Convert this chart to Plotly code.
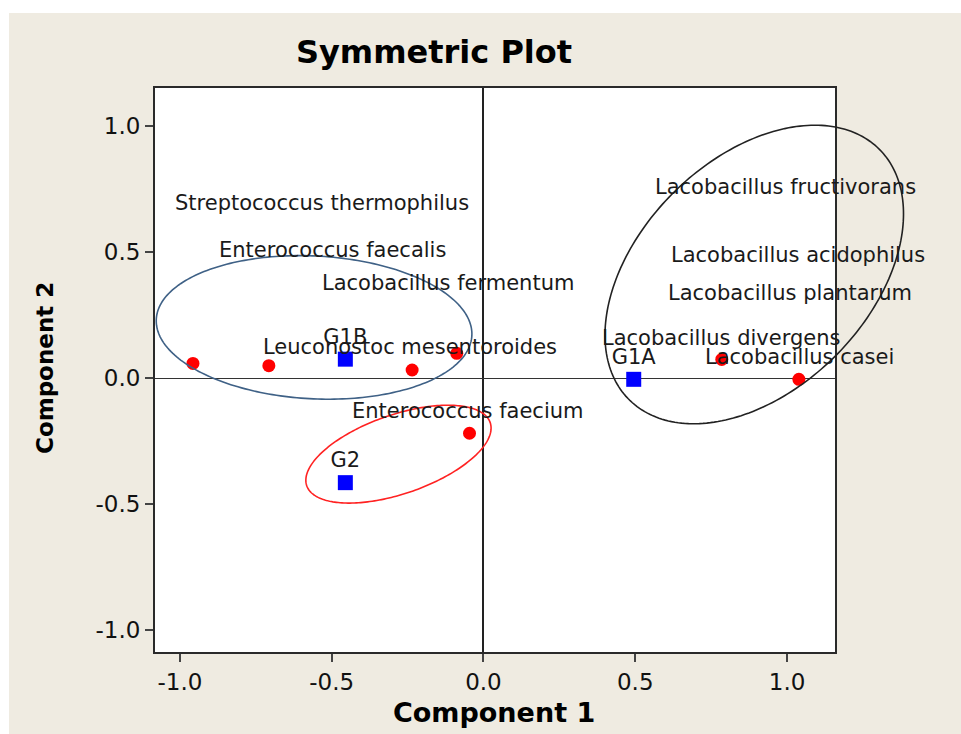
import numpy as np
import plotly.graph_objects as go

# ---- data ----
point_x = [-0.957, -0.707, -0.235, -0.088, -0.046, 0.785, 1.039]
point_y = [0.058, 0.049, 0.032, 0.098, -0.219, 0.074, -0.005]

group_names = ["G1B", "G1A", "G2"]
group_x = [-0.455, 0.495, -0.455]
group_y = [0.075, -0.005, -0.415]

species_names = [
    "Streptococcus thermophilus",
    "Enterococcus faecalis",
    "Lacobacillus fermentum",
    "Leuconostoc mesentoroides",
    "Enterococcus faecium",
    "Lacobacillus fructivorans",
    "Lacobacillus acidophilus",
    "Lacobacillus plantarum",
    "Lacobacillus divergens",
    "Lacobacillus casei",
]
species_x = [-1.018, -0.873, -0.534, -0.728, -0.435, 0.563, 0.613, 0.604, 0.388, 0.728]
species_y = [0.694, 0.508, 0.377, 0.123, -0.131, 0.759, 0.488, 0.338, 0.158, 0.082]

tick_vals = [-1.0, -0.5, 0.0, 0.5, 1.0]
tick_text = ["-1.0", "-0.5", "0.0", "0.5", "1.0"]

# ellipse groups: center (data), semi-axes (screen px), rotation (deg, ccw on screen)
ell_cx = [-0.558, -0.280, 0.892]
ell_cy = [0.201, -0.302, 0.411]
ell_a = [158, 97, 177]
ell_b = [71.4, 39.5, 115]
ell_rot = [-3, 19, 45]
ell_colors = ["#3F6186", "#FF2222", "#222222"]

# ---- layout geometry ----
W, H = 961, 734
ML, MR, MT, MB = 155, 126, 88, 82
xr = [-1.082, 1.158]
yr = [-1.087, 1.151]
pw = W - ML - MR
ph = H - MT - MB
kx = pw / (xr[1] - xr[0])
ky = ph / (yr[1] - yr[0])

fig = go.Figure()

# ellipses as unclipped paper-referenced paths
t = np.linspace(0, 2 * np.pi, 240)
for cx, cy, a, b, r, c in zip(ell_cx, ell_cy, ell_a, ell_b, ell_rot, ell_colors):
    p = np.deg2rad(r)
    ex = cx + (a * np.cos(t) * np.cos(p) - b * np.sin(t) * np.sin(p)) / kx
    ey = cy + (a * np.cos(t) * np.sin(p) + b * np.sin(t) * np.cos(p)) / ky
    px_ = (ex - xr[0]) / (xr[1] - xr[0])
    py_ = (ey - yr[0]) / (yr[1] - yr[0])
    path = "M " + " L ".join(f"{u:.5f},{v:.5f}" for u, v in zip(px_, py_)) + " Z"
    fig.add_shape(type="path", path=path, xref="paper", yref="paper",
                  line=dict(color=c, width=1.6), layer="above")

fig.add_trace(go.Scatter(x=point_x, y=point_y, mode="markers",
                         marker=dict(color="#FF0000", size=13, symbol="circle"),
                         showlegend=False))

fig.add_trace(go.Scatter(x=group_x, y=group_y, mode="markers+text",
                         text=group_names, textposition="top center",
                         textfont=dict(family="DejaVu Sans", size=21, color="#1a1a1a"),
                         marker=dict(color="#0000FF", size=15, symbol="square"),
                         cliponaxis=False, showlegend=False))

for name, sx, sy in zip(species_names, species_x, species_y):
    fig.add_annotation(x=sx, y=sy, text=name, showarrow=False,
                       xanchor="left", yanchor="middle", borderpad=0,
                       font=dict(family="DejaVu Sans", size=21, color="#1a1a1a"))

# axis titles
fig.add_annotation(xref="paper", yref="paper", x=(494 - ML) / pw,
                   y=-(712 - (H - MB)) / ph,
                   text="<b>Component 1</b>", showarrow=False,
                   xanchor="center", yanchor="middle",
                   font=dict(family="DejaVu Sans", size=27, color="#000"))
fig.add_annotation(xref="paper", yref="paper", x=-(ML - 45) / pw,
                   y=((H - MB) - 368) / ph,
                   text="<b>Component 2</b>", showarrow=False, textangle=-90,
                   xanchor="center", yanchor="middle",
                   font=dict(family="DejaVu Sans", size=23, color="#000"))

# white strips at top and left edge of the image
fig.add_shape(type="rect", xref="paper", yref="paper",
              x0=-ML / pw - 0.05, x1=(W - ML) / pw + 0.05,
              y0=((H - MB) - 13) / ph, y1=(H - MB) / ph + 0.05,
              fillcolor="white", line_width=0, layer="above")
fig.add_shape(type="rect", xref="paper", yref="paper",
              x0=-ML / pw - 0.05, x1=-(ML - 9) / pw,
              y0=-MB / ph - 0.05, y1=(H - MB) / ph + 0.05,
              fillcolor="white", line_width=0, layer="above")

axis_common = dict(showgrid=False, showline=True, linecolor="#2a2a2a", linewidth=2,
                   mirror=True, ticks="outside", ticklen=8, tickwidth=2,
                   tickcolor="#444", tickvals=tick_vals, ticktext=tick_text,
                   tickfont=dict(family="DejaVu Sans", size=23, color="#111"),
                   zeroline=True)

fig.update_layout(
    width=W, height=H,
    margin=dict(l=ML, r=MR, t=MT, b=MB),
    paper_bgcolor="#EFEBE1",
    plot_bgcolor="white",
    title=dict(text="<b>Symmetric Plot</b>", x=(434 - ML) / pw, xref="paper",
               xanchor="center", y=1 - 52 / H, yref="container", yanchor="middle",
               font=dict(family="DejaVu Sans", size=32, color="#000")),
    xaxis=dict(range=xr, zerolinecolor="#222", zerolinewidth=2, **axis_common),
    yaxis=dict(range=yr, zerolinecolor="#333", zerolinewidth=1.4, **axis_common),
    showlegend=False,
)

fig.write_html("out.html",
               config={"displayModeBar": False},
               post_script="document.body.style.margin='0';"
                           "document.body.style.overflow='hidden';")
